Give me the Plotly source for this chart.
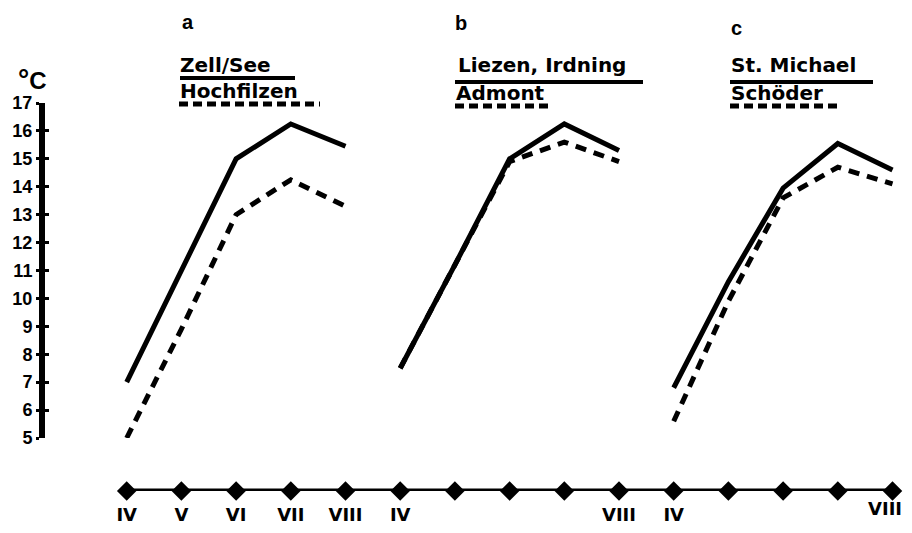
import plotly.graph_objects as go

# ---------------- data ----------------
months = ["IV", "V", "VI", "VII", "VIII"]
panel_letters = ["a", "b", "c"]
station_solid = ["Zell/See", "Liezen, Irdning", "St. Michael"]
station_dashed = ["Hochfilzen", "Admont", "Schöder"]

zell_see = [7.0, 11.0, 15.0, 16.25, 15.45]
hochfilzen = [5.0, 8.9, 13.0, 14.25, 13.3]
liezen_irdning = [7.5, 11.2, 15.0, 16.25, 15.3]
admont = [7.5, 11.2, 14.9, 15.6, 14.9]
st_michael = [6.8, 10.6, 13.95, 15.55, 14.6]
schoeder = [5.6, 9.9, 13.6, 14.7, 14.1]

solid_series = [zell_see, liezen_irdning, st_michael]
dashed_series = [hochfilzen, admont, schoeder]

axis_positions = list(range(15))
axis_labels = ["IV", "V", "VI", "VII", "VIII", "IV", "", "", "", "VIII",
               "IV", "", "", "", "VIII"]
y_ticks = list(range(5, 18))

# ---------------- geometry ----------------
# the page has an 8px body margin: the figure sits at (8, 8) in the window,
# so it is sized to fit inside without scrollbars
OFF = 8
W, H = 912 - 2 * OFF, 533 - 2 * OFF
PLOT_BOTTOM = 491          # window pixel of the month axis line
L, R, T = 42 - OFF, 0, 103 - OFF
B = H - (PLOT_BOTTOM - OFF)
PW = W - L - R
PH = H - T - B


def px(xp):
    return (xp - OFF - L) / PW


def py(yp):
    return (H - B - (yp - OFF)) / PH


X0 = -(126.7 - OFF - L) / 54.7
X1 = X0 + PW / 54.7

BOLD = "DejaVu Sans"
NUM = "Liberation Sans, Arial, sans-serif"

fig = go.Figure()

for p in range(3):
    xs = [p * 5 + i for i in range(len(months))]
    fig.add_trace(go.Scatter(
        x=xs, y=dashed_series[p], mode="lines",
        line=dict(color="black", width=5, dash="11px,8px"),
        name=station_dashed[p], showlegend=False, hoverinfo="skip"))
    fig.add_trace(go.Scatter(
        x=xs, y=solid_series[p], mode="lines",
        line=dict(color="black", width=5),
        name=station_solid[p], showlegend=False, hoverinfo="skip"))

# month axis line with diamonds
fig.add_trace(go.Scatter(
    x=axis_positions, y=[0] * len(axis_positions), yaxis="y2",
    mode="lines+markers", line=dict(color="black", width=5),
    marker=dict(symbol="diamond", size=15, color="black"),
    cliponaxis=False, showlegend=False, hoverinfo="skip"))

# invisible trace for inside-tick overlay axis
fig.add_trace(go.Scatter(x=[None], y=[None], yaxis="y3", showlegend=False))

main_ticks_vals = [i for i, t in enumerate(axis_labels) if t and i < 14]
main_ticks_text = [axis_labels[i] for i in main_ticks_vals]

fig.update_layout(
    width=W, height=H,
    margin=dict(l=L, r=R, t=T, b=B, pad=0, autoexpand=False),
    paper_bgcolor="white", plot_bgcolor="white",
    showlegend=False,
    xaxis=dict(
        domain=[0, 1], range=[X0, X1], anchor="y2", automargin=False,
        showgrid=False, zeroline=False, showline=False,
        tickvals=main_ticks_vals, ticktext=main_ticks_text,
        ticks="", ticklabelstandoff=11,
        tickfont=dict(family=BOLD, size=18, color="black", weight="bold"),
    ),
    yaxis=dict(
        domain=[py(438), 1], range=[5, 17], anchor="free", position=0,
        automargin=False,
        showgrid=False, zeroline=False,
        showline=True, linewidth=6, linecolor="black",
        tickvals=y_ticks, ticks="outside", ticklen=3, tickwidth=3,
        tickcolor="black",
        tickfont=dict(family=NUM, size=18, color="black", weight="bold"),
    ),
    yaxis2=dict(
        domain=[0, 0.05], range=[0, 1], visible=False, anchor="x",
    ),
    yaxis3=dict(
        overlaying="y", range=[5, 17], anchor="free", position=0,
        automargin=False,
        showgrid=False, zeroline=False, showline=False,
        showticklabels=False,
        tickvals=y_ticks, ticks="inside", ticklen=6, tickwidth=3,
        tickcolor="black",
    ),
)

annotations = []
# last (raised) month label, kept inside the right edge of the page
annotations.append(dict(
    x=1, xref="paper", y=py(508), yref="paper",
    text=axis_labels[14], showarrow=False, xanchor="right", yanchor="middle",
    font=dict(family=BOLD, size=18, color="black", weight="bold")))

# degree label
annotations.append(dict(
    x=px(16), xref="paper", y=py(79), yref="paper",
    text='<span style="font-size:28px">°</span>C', showarrow=False,
    xanchor="left", yanchor="middle",
    font=dict(family=NUM, size=24, color="black", weight="bold")))

letter_pos = [(180, 22), (453, 23), (729, 28)]
solid_text_pos = [(178, 65), (456, 65), (729, 65)]
dashed_text_pos = [(178, 91), (454, 93), (729, 93)]
solid_line = [(180, 295, 78), (455, 643, 82), (730, 873, 82)]
dashed_line = [(179, 320, 104), (455, 552, 106), (730, 840, 106)]

shapes = []
for p in range(3):
    annotations.append(dict(
        x=px(letter_pos[p][0]), xref="paper", y=py(letter_pos[p][1]),
        yref="paper", text=panel_letters[p], showarrow=False,
        xanchor="left", yanchor="middle",
        font=dict(family=NUM, size=20, color="black", weight="bold")))
    annotations.append(dict(
        x=px(solid_text_pos[p][0]), xref="paper", y=py(solid_text_pos[p][1]),
        yref="paper", text=station_solid[p], showarrow=False,
        xanchor="left", yanchor="middle",
        font=dict(family=BOLD, size=20, color="black", weight="bold")))
    annotations.append(dict(
        x=px(dashed_text_pos[p][0]), xref="paper", y=py(dashed_text_pos[p][1]),
        yref="paper", text=station_dashed[p], showarrow=False,
        xanchor="left", yanchor="middle",
        font=dict(family=BOLD, size=20, color="black", weight="bold")))
    x0, x1, yy = solid_line[p]
    shapes.append(dict(type="line", xref="paper", yref="paper",
                       x0=px(x0), x1=px(x1), y0=py(yy), y1=py(yy),
                       line=dict(color="black", width=4)))
    x0, x1, yy = dashed_line[p]
    shapes.append(dict(type="line", xref="paper", yref="paper",
                       x0=px(x0), x1=px(x1), y0=py(yy), y1=py(yy),
                       line=dict(color="black", width=5, dash="9px,5px")))

fig.update_layout(annotations=annotations, shapes=shapes)

fig.write_html("out.html")
